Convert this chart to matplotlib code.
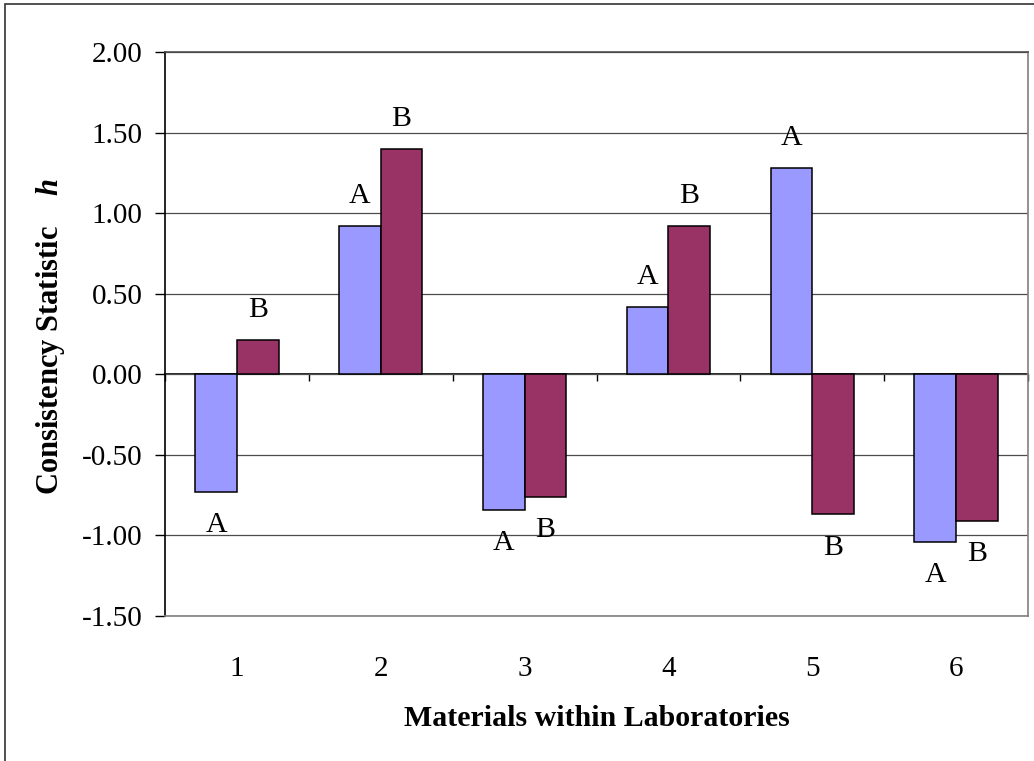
import matplotlib.pyplot as plt
import matplotlib.patches as mpatches
import numpy as np

# data
materials = ['1', '2', '3', '4', '5', '6']
lab_a = [-0.73, 0.92, -0.84, 0.42, 1.28, -1.04]
lab_b = [0.21, 1.40, -0.76, 0.92, -0.87, -0.91]
series_names = ['A', 'B']

plt.rcParams['font.family'] = ['Liberation Serif', 'DejaVu Serif']
plt.rcParams['mathtext.fontset'] = 'custom'
plt.rcParams['mathtext.rm'] = 'Liberation Serif'
plt.rcParams['mathtext.bfit'] = 'Liberation Serif:italic:bold'

W, H = 1034, 761
fig = plt.figure(figsize=(W / 100, H / 100), dpi=100)
ax = fig.add_axes([165 / W, 1 - 616 / H, (1028 - 165) / W, (616 - 52) / H])

x = np.arange(1, len(materials) + 1)
w = 0.29
bars_a = ax.bar(x - w / 2, lab_a, w, color='#9999FF', edgecolor='black', linewidth=1.1, zorder=3)
bars_b = ax.bar(x + w / 2, lab_b, w, color='#993366', edgecolor='black', linewidth=1.1, zorder=3)

# A / B letters just past the end of every bar
for bars, name in zip([bars_a, bars_b], series_names):
    for b in bars:
        val = b.get_y() + b.get_height()
        off = 21.6 if val >= 0 else -23.8
        ax.annotate(name, xy=(b.get_x() + b.get_width() / 2, val), xytext=(0, off),
                    textcoords='offset points', ha='center', va='center', fontsize=21.5)

ax.set_xlim(0.5, len(materials) + 0.5)
ax.set_ylim(-1.5, 2.0)
ax.set_yticks(np.arange(-1.5, 2.01, 0.5))
ax.set_yticklabels([f'{t:.2f}' for t in np.arange(-1.5, 2.01, 0.5)])
ax.tick_params(axis='y', direction='out', length=7.2, width=1, labelsize=21, pad=9)
ax.set_xticks(x)
ax.set_xticklabels(materials)
ax.tick_params(axis='x', length=0, labelsize=21, pad=29)
ax.grid(axis='y', color='#4d4d4d', linewidth=0.9)
ax.set_axisbelow(True)

for side in ['top', 'right', 'bottom']:
    ax.spines[side].set_color('#808080')
    ax.spines[side].set_linewidth(1.2)
ax.spines['top'].set_color('#4d4d4d')
ax.spines['left'].set_linewidth(1.2)

# category axis crossing at zero, with ticks between groups
loc0 = (0 - (-1.5)) / 3.5
sec = ax.secondary_xaxis(loc0)
sec.set_xticks(np.arange(0.5, len(materials) + 1, 1.0))
sec.set_xticklabels([])
sec.tick_params(direction='out', length=5, width=1)
sec.spines['bottom'].set_linewidth(1.2)

ax.set_xlabel('Materials within Laboratories', fontsize=21.5, fontweight='bold')
ax.xaxis.set_label_coords(0.5, -0.181)
ax.xaxis.label.set_va('center')
ax.set_ylabel(r'Consistency Statistic    $\mathbfit{h}$', fontsize=22, fontweight='bold')
ax.yaxis.set_label_coords(-0.133, 0.496)
ax.yaxis.label.set_va('center')

# outer chart border
fig.patches.append(mpatches.Rectangle((4.5 / W, -0.1), 1.2, 1.1 - 4 / H, transform=fig.transFigure,
                                      fill=False, edgecolor='#333333', linewidth=1.2))

plt.savefig('out.png', dpi=100)
